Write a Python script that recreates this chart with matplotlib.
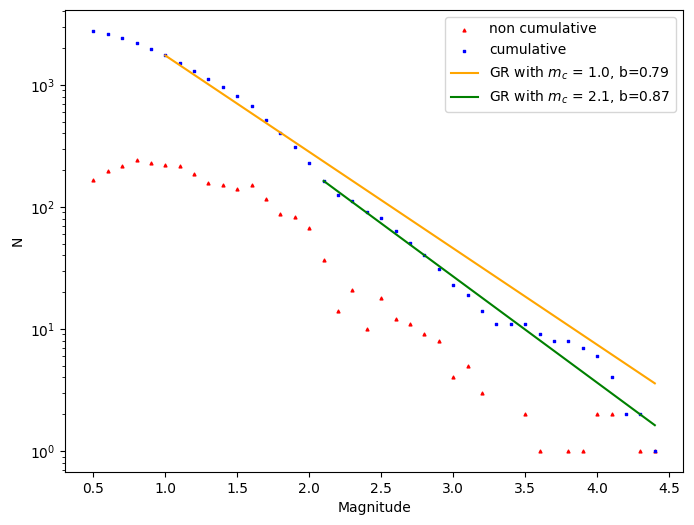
import numpy as np
import matplotlib
matplotlib.use("Agg")
import matplotlib.pyplot as plt

# magnitude bins
mags = [0.5, 0.6, 0.7, 0.8, 0.9, 1.0, 1.1, 1.2, 1.3, 1.4, 1.5, 1.6, 1.7, 1.8, 1.9,
        2.0, 2.1, 2.2, 2.3, 2.4, 2.5, 2.6, 2.7, 2.8, 2.9, 3.0, 3.1, 3.2, 3.3, 3.4,
        3.5, 3.6, 3.7, 3.8, 3.9, 4.0, 4.1, 4.2, 4.3, 4.4]

# events per bin (0 = nothing drawn on log axis)
non_cum = [166, 195, 217, 243, 230, 220, 217, 185, 157, 152, 140, 152, 116, 87, 82,
           67, 37, 14, 21, 10, 18, 12, 11, 9, 8, 4, 5, 3, 0, 0,
           2, 1, 0, 1, 1, 2, 2, 0, 1, 1]

# events with magnitude >= bin
cum = [2760, 2630, 2430, 2210, 1970, 1738, 1518, 1301, 1116, 959, 807, 667, 515, 399, 312,
       230, 163, 126, 112, 91, 81, 63, 51, 40, 31, 23, 19, 14, 11, 11,
       11, 9, 8, 8, 7, 6, 4, 2, 2, 1]

# Gutenberg-Richter fits: completeness magnitude and b-value
mc_1, b_1 = 1.0, 0.79
mc_2, b_2 = 2.1, 0.87

mags = np.array(mags)
non_cum = np.array(non_cum, dtype=float)
cum = np.array(cum, dtype=float)

fig = plt.figure(figsize=(6.94, 5.25), dpi=100)
ax = fig.add_subplot(111)
fig.subplots_adjust(left=0.094, right=0.984, bottom=0.101, top=0.981)

ax.scatter(mags, np.where(non_cum > 0, non_cum, np.nan), marker='^', s=4,
           color='red', label='non cumulative')
ax.scatter(mags, cum, marker='s', s=3, color='blue', label='cumulative')

# GR lines starting from the cumulative count at mc
m1 = mags[mags >= mc_1 - 1e-9]
n1 = cum[np.isclose(mags, mc_1)][0] * 10 ** (-b_1 * (m1 - mc_1))
ax.plot(m1, n1, color='orange', label='GR with $m_c$ = %.1f, b=%.2f' % (mc_1, b_1))

m2 = mags[mags >= mc_2 - 1e-9]
n2 = cum[np.isclose(mags, mc_2)][0] * 10 ** (-b_2 * (m2 - mc_2))
ax.plot(m2, n2, color='green', label='GR with $m_c$ = %.1f, b=%.2f' % (mc_2, b_2))

ax.set_yscale('log')
ax.set_xlabel('Magnitude')
ax.set_ylabel('N')
ax.legend(loc='upper right')

fig.savefig('out.png', dpi=100)
